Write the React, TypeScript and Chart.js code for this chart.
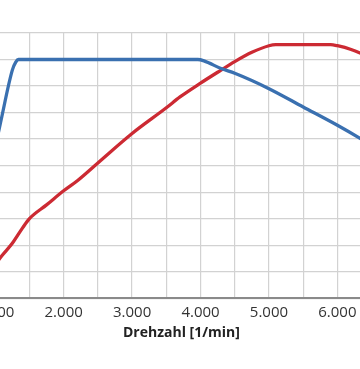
import React, { useEffect, useRef } from "react";
import { Chart, registerables } from "chart.js";

Chart.register(...registerables);

// Drehzahl (rpm) and curve values (in grid units x10)
const torqueRpm = [1000, 1076, 1250, 1300, 1340, 3960, 4050, 4300, 4500, 5000, 5500, 6000, 6350, 6700];
const torque = [57, 66, 86, 89, 90, 90, 89.5, 86.6, 84.8, 79, 72.1, 65.2, 60, 54.5];

const powerRpm = [1000, 1100, 1250, 1400, 1500, 1750, 2000, 2200, 2500, 3000, 3500, 3700, 4000, 4300, 4500, 4750, 5000, 5100, 5900, 6000, 6200, 6500, 6800];
const power = [12.7, 16.1, 20.7, 26.5, 30, 35.2, 40.5, 44.3, 51, 62.1, 71.8, 75.9, 81.1, 86, 89.2, 92.7, 95.2, 95.6, 95.6, 95.2, 93.8, 90.5, 86.5];

const xTitle = "Drehzahl [1/min]";
const xTickValues = [500, 1000, 1500, 2000, 2500, 3000, 3500, 4000, 4500, 5000, 5500, 6000, 6500];
const xMin = 500;
const xMax = 6941;
const yMin = 0;
const yMax = 100;
const yStep = 10;

function formatRpm(v: number): string {
  if (v % 1000 !== 0) return "";
  return (v / 1000).toString() + ".000";
}

export default function App() {
  const ref = useRef<HTMLCanvasElement | null>(null);
  useEffect(() => {
    if (!ref.current) return;
    const chart = new Chart(ref.current, {
      type: "line",
      data: {
        datasets: [
          {
            label: "Drehmoment",
            data: torqueRpm.map((x, i) => ({ x, y: torque[i] })),
            borderColor: "#3a70b0",
            borderWidth: 3.3,
            pointRadius: 0,
            cubicInterpolationMode: "monotone",
            fill: false,
          },
          {
            label: "Leistung",
            data: powerRpm.map((x, i) => ({ x, y: power[i] })),
            borderColor: "#cc2a33",
            borderWidth: 3.3,
            pointRadius: 0,
            cubicInterpolationMode: "monotone",
            fill: false,
          },
        ],
      },
      options: {
        animation: false,
        responsive: true,
        maintainAspectRatio: false,
        layout: { autoPadding: false, padding: { top: 33, left: 0, right: 0, bottom: 0 } },
        plugins: { legend: { display: false }, tooltip: { enabled: false } },
        scales: {
          x: {
            type: "linear",
            min: xMin,
            max: xMax,
            afterBuildTicks: (scale: any) => {
              scale.ticks = xTickValues.map((v) => ({ value: v }));
            },
            ticks: {
              autoSkip: false,
              maxRotation: 0,
              padding: 6,
              color: "#333333",
              font: { family: "'Open Sans'", size: 15 },
              callback: (v: any) => formatRpm(Number(v)),
            },
            grid: { color: "#d2d2d2", lineWidth: 1.2, drawTicks: false },
            border: { color: "#8a8a8a", width: 2 },
            title: {
              display: true,
              text: xTitle,
              color: "#222222",
              font: { family: "'Open Sans'", size: 14, weight: "bold" },
              padding: { top: -4, bottom: 0 },
            },
          },
          y: {
            type: "linear",
            min: yMin,
            max: yMax,
            ticks: { display: false, stepSize: yStep },
            grid: { color: "#d2d2d2", lineWidth: 1.2, drawTicks: false },
            border: { display: false },
          },
        },
      },
    } as any);
    return () => chart.destroy();
  }, []);

  return (
    <div style={{ position: "fixed", left: 0, top: 0, width: 360, height: 369, overflow: "hidden", background: "#ffffff" }}>
      <div style={{ position: "absolute", left: -45.4, top: 0, width: 446.8, height: 341 }}>
        <canvas ref={ref} />
      </div>
    </div>
  );
}
